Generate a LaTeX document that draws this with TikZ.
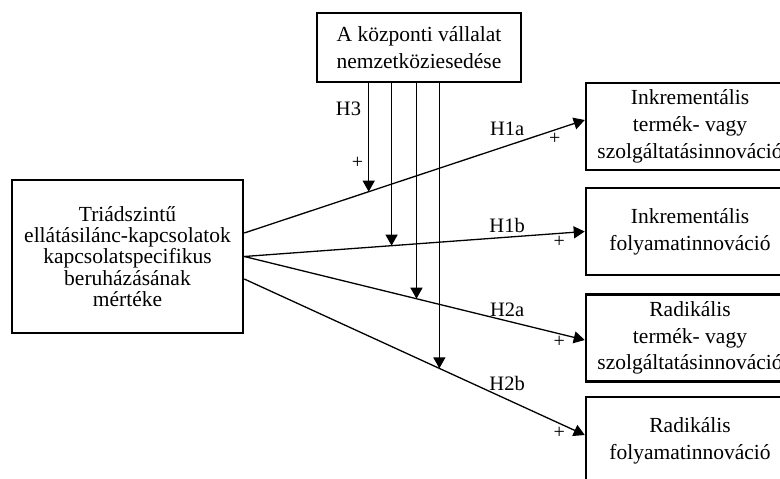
\documentclass[tikz,border=0pt]{standalone}
\usepackage{fontspec}
\setmainfont{Liberation Serif}
\usetikzlibrary{arrows.meta}

\begin{document}
\begin{tikzpicture}[x=1pt, y=-1pt,
    box/.style={rectangle, draw=black, line width=2.5pt, align=center, inner sep=0pt, font=\fontsize{21.5}{26.7}\selectfont},
    outbox/.style={box, minimum width=208pt, minimum height=87pt},
    arr/.style={-{Triangle[length=11pt, width=12pt]}, line width=1.3pt},
    hyp/.style={font=\fontsize{20.5}{24}\selectfont, inner sep=1pt},
    sgn/.style={font=\fontsize{20}{22}\selectfont, inner sep=1pt}]
  \useasboundingbox (0,0) rectangle (780,479);
  %
  \node[box, minimum width=204pt, minimum height=69pt] (nemz) at (419,47.5) {A központi vállalat\\nemzetköziesedése};
  \node[box, minimum width=231pt, minimum height=153pt, font=\fontsize{21.5}{21.3}\selectfont] (triad) at (127.5,256.5) {Triádszintű\\ellátásilánc-kapcsolatok\\kapcsolatspecifikus\\beruházásának\\mértéke};
  %
  \node[outbox] (ink_t) at (690,126.5) {Inkrementális\\termék- vagy\\szolgáltatásinnováció};
  \node[outbox] (ink_f) at (690,231.5) {Inkrementális\\folyamatinnováció};
  \node[outbox] (rad_t) at (690,338) {Radikális\\termék- vagy\\szolgáltatásinnováció};
  \node[outbox] (rad_f) at (690,440.5) {Radikális\\folyamatinnováció};
  %
  \draw[arr] ([yshift=23.5pt]triad.east) -- coordinate[pos=0.3655] (m_1)
      node[hyp, pos=0.772, above=8pt] (l_h1a) {H1a}
      node[sgn, pos=0.912, below=2pt] (s_h1a) {+} ([yshift=6.5pt]ink_t.west);
  \draw[arr] (triad.east) -- coordinate[pos=0.4327] (m_2)
      node[hyp, pos=0.772, above=3pt] (l_h1b) {H1b}
      node[sgn, pos=0.925, below=1pt] (s_h1b) {+} (ink_f.west);
  \draw[arr] (triad.east) -- coordinate[pos=0.5058] (m_3)
      node[hyp, pos=0.772, above=3pt] (l_h2a) {H2a}
      node[sgn, pos=0.925, below=1pt] (s_h2a) {+} ([yshift=-2pt]rad_t.west);
  \draw[arr] ([yshift=-22.5pt]triad.east) -- coordinate[pos=0.573] (m_4)
      node[hyp, pos=0.772, above=7pt] (l_h2b) {H2b}
      node[sgn, pos=0.925, below=2pt] (s_h2b) {+} ([yshift=5.5pt]rad_f.west);
  %
  \draw[arr] (nemz.south -| m_1) -- node[hyp, pos=0.24, left=6pt] (l_h3) {H3}
      node[sgn, pos=0.73, left=4pt] (s_h3) {+} (m_1);
  \draw[arr] (nemz.south -| m_2) -- (m_2);
  \draw[arr] (nemz.south -| m_3) -- (m_3);
  \draw[arr] (nemz.south -| m_4) -- (m_4);
\end{tikzpicture}
\end{document}
